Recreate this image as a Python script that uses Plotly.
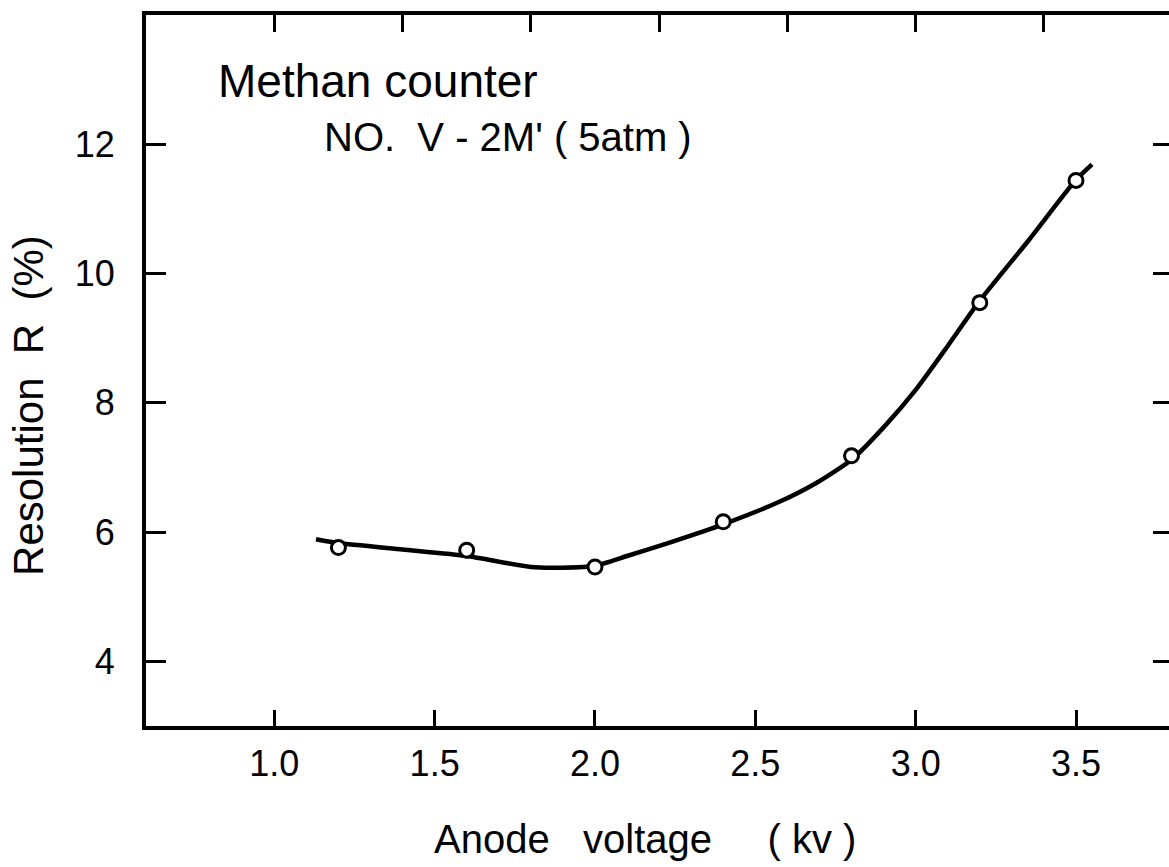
import plotly.graph_objects as go

# Measured data points (open circles)
voltage_kv = [1.2, 1.6, 2.0, 2.4, 2.8, 3.2, 3.5]
resolution_pct = [5.76, 5.72, 5.46, 6.16, 7.18, 9.55, 11.44]

# Hand-drawn fit curve
curve_kv = [1.13, 1.2, 1.4, 1.6, 1.8, 1.9, 2.0, 2.1, 2.24, 2.4, 2.58, 2.69, 2.8, 2.9, 3.0, 3.1, 3.2, 3.35, 3.5, 3.55]
curve_pct = [5.89, 5.83, 5.73, 5.63, 5.46, 5.45, 5.48, 5.63, 5.85, 6.12, 6.48, 6.76, 7.12, 7.62, 8.2, 8.88, 9.58, 10.5, 11.45, 11.69]

# Tick definitions
x_ticks = [1.0, 1.5, 2.0, 2.5, 3.0, 3.5]
x_ticklabels = ["1.0", "1.5", "2.0", "2.5", "3.0", "3.5"]
top_ticks = [1.0, 1.4, 1.8, 2.2, 2.6, 3.0, 3.4]
y_ticks = [4, 6, 8, 10, 12]
y_ticklabels = ["4", "6", "8", "10", "12"]

X_RANGE = [0.6, 3.79]
Y_RANGE = [3.0, 14.0]
FONT = "Liberation Sans, Arial, sans-serif"

fig = go.Figure()

fig.add_trace(go.Scatter(
    x=curve_kv, y=curve_pct, mode="lines",
    line=dict(color="black", width=4.5, shape="spline", smoothing=0.6),
    xaxis="x", yaxis="y", showlegend=False, hoverinfo="skip",
))

fig.add_trace(go.Scatter(
    x=voltage_kv, y=resolution_pct, mode="markers",
    marker=dict(symbol="circle", size=14, color="white",
                line=dict(color="black", width=3)),
    xaxis="x2", yaxis="y2", showlegend=False,
))

fig.update_layout(
    width=1169, height=867,
    margin=dict(l=146, r=0, t=15, b=141),
    paper_bgcolor="white", plot_bgcolor="white",
    font=dict(family=FONT, color="black"),
    xaxis=dict(
        range=X_RANGE, tickvals=x_ticks, ticktext=x_ticklabels,
        ticks="inside", ticklen=16, tickwidth=3, tickcolor="black",
        showline=True, linewidth=4, linecolor="black",
        showgrid=False, zeroline=False, mirror=False,
        tickfont=dict(size=36, family=FONT, color="black"),
        ticklabelstandoff=3, fixedrange=True,
    ),
    yaxis=dict(
        range=Y_RANGE, tickvals=y_ticks, ticktext=y_ticklabels,
        ticks="inside", ticklen=20, tickwidth=3, tickcolor="black",
        showline=True, linewidth=4, linecolor="black",
        showgrid=False, zeroline=False, mirror=False,
        tickfont=dict(size=36, family=FONT, color="black"),
        ticklabelstandoff=20, fixedrange=True,
    ),
    xaxis2=dict(
        range=X_RANGE, overlaying="x", side="top", anchor="y2",
        tickvals=top_ticks, showticklabels=False,
        ticks="inside", ticklen=17, tickwidth=3, tickcolor="black",
        showline=True, linewidth=4, linecolor="black",
        showgrid=False, zeroline=False, fixedrange=True,
    ),
    yaxis2=dict(
        range=Y_RANGE, overlaying="y", side="right", anchor="x2",
        tickvals=y_ticks, showticklabels=False,
        ticks="inside", ticklen=16, tickwidth=3, tickcolor="black",
        showline=False, showgrid=False, zeroline=False, fixedrange=True,
    ),
    annotations=[
        dict(text="Methan counter", xref="paper", yref="paper",
             x=0.0684, y=0.907, xanchor="left", yanchor="middle",
             showarrow=False, font=dict(size=46, family=FONT, color="black")),
        dict(text="NO.\u00a0\u00a0V - 2M'\u00a0( 5atm )", xref="paper", yref="paper",
             x=0.172, y=0.829, xanchor="left", yanchor="middle",
             showarrow=False, font=dict(size=40, family=FONT, color="black")),
        dict(text="Anode\u00a0\u00a0\u00a0voltage\u00a0\u00a0\u00a0\u00a0\u00a0( kv )",
             xref="paper", yref="paper",
             x=(432 - 146) / 1023, y=-0.159, xanchor="left", yanchor="middle",
             showarrow=False, font=dict(size=40, family=FONT, color="black")),
        dict(text="Resolution\u00a0\u00a0R\u00a0\u00a0(%)", xref="paper", yref="paper",
             x=-0.1144, y=0.4515, xanchor="center", yanchor="middle",
             textangle=-90, showarrow=False,
             font=dict(size=42, family=FONT, color="black")),
    ],
)

fig.write_html("out.html")
